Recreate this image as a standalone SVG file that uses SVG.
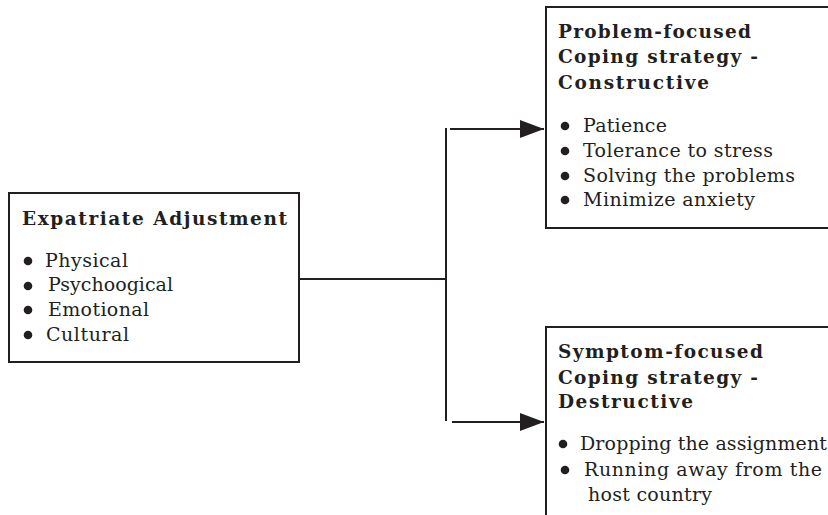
<svg xmlns="http://www.w3.org/2000/svg" width="828" height="515" viewBox="0 0 828 515">
<style>
.box{fill:#fff;stroke:#231f20;stroke-width:2}
.ln{fill:none;stroke:#231f20;stroke-width:2}
text{font-family:"DejaVu Serif","Liberation Serif",serif;font-size:19px;fill:#231f20}
.b{font-weight:bold;font-size:18.5px}
.dot{fill:#231f20}
</style>
<defs>
<marker id="arr" markerWidth="24" markerHeight="18" refX="24" refY="9" orient="auto" markerUnits="userSpaceOnUse" viewBox="0 0 24 18">
<path d="M0,0 L24,9 L0,18 Z" fill="#231f20"/>
</marker>
</defs>
<g id="connectors">
<path class="ln" d="M299,279 H446"/>
<path class="ln" d="M446,128 V421"/>
<path class="ln" d="M450,129 H544" marker-end="url(#arr)"/>
<path class="ln" d="M452,422 H544" marker-end="url(#arr)"/>
</g>
<g id="expatriate">
<rect class="box" x="9" y="193" width="290" height="169"/>
<text class="b" x="22" y="225" textLength="265">Expatriate Adjustment</text>
<circle class="dot" cx="28" cy="261" r="4.3"/>
<text x="45" y="267" textLength="83">Physical</text>
<circle class="dot" cx="28" cy="286" r="4.3"/>
<text x="48" y="291" textLength="125">Psychoogical</text>
<circle class="dot" cx="28" cy="310" r="4.3"/>
<text x="48" y="316" textLength="101">Emotional</text>
<circle class="dot" cx="28" cy="335" r="4.3"/>
<text x="46" y="341" textLength="83">Cultural</text>
</g>
<g id="problem">
<rect class="box" x="546" y="7" width="300" height="221"/>
<text class="b" x="558" y="38" textLength="193">Problem-focused</text>
<text class="b" x="558" y="63" textLength="200">Coping strategy -</text>
<text class="b" x="558" y="89" textLength="151">Constructive</text>
<circle class="dot" cx="565" cy="126" r="4.3"/>
<text x="583" y="132" textLength="84">Patience</text>
<circle class="dot" cx="565" cy="151" r="4.3"/>
<text x="583" y="157" textLength="190">Tolerance to stress</text>
<circle class="dot" cx="565" cy="176" r="4.3"/>
<text x="583" y="182" textLength="212">Solving the problems</text>
<circle class="dot" cx="565" cy="200" r="4.3"/>
<text x="583" y="206" textLength="172">Minimize anxiety</text>
</g>
<g id="symptom">
<rect class="box" x="546" y="327" width="300" height="200"/>
<text class="b" x="558" y="358" textLength="205">Symptom-focused</text>
<text class="b" x="558" y="384" textLength="200">Coping strategy -</text>
<text class="b" x="558" y="408" textLength="135">Destructive</text>
<circle class="dot" cx="563" cy="444" r="4.3"/>
<text x="580" y="450" textLength="247">Dropping the assignment</text>
<circle class="dot" cx="565" cy="470" r="4.3"/>
<text x="584" y="476" textLength="238">Running away from the</text>
<text x="588" y="501" textLength="124">host country</text>
</g>
</svg>
